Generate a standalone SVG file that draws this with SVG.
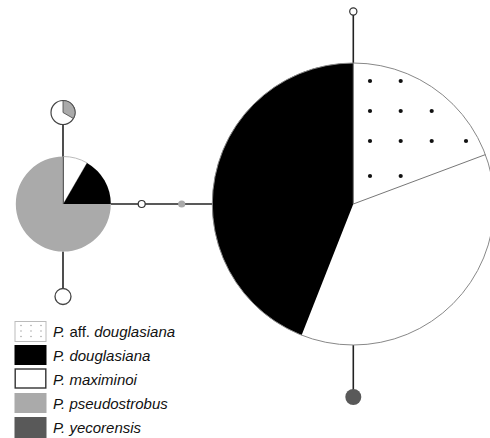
<svg xmlns="http://www.w3.org/2000/svg" width="490" height="438" viewBox="0 0 490 438">
<defs>
<style>
.edge{stroke:#222;stroke-width:1.6;fill:none}
.div{stroke:#777;stroke-width:1;fill:none}
.lbl{font-family:"Liberation Sans",Arial,sans-serif;font-size:15px;fill:#111}
.it{font-style:italic}
</style>
<circle id="dot" r="2.1" fill="#111"/>
<circle id="ldot" r="0.8" fill="#aaa"/>
</defs>
<rect width="490" height="438" fill="#fff"/>
<g id="connectors">
<line class="edge" x1="353.3" y1="15" x2="353.3" y2="63"/>
<line class="edge" x1="353.3" y1="345" x2="353.3" y2="390"/>
<line class="edge" x1="63" y1="124.5" x2="63" y2="157"/>
<line class="edge" x1="63" y1="251.5" x2="63" y2="288.5"/>
<line class="edge" x1="110.8" y1="204" x2="212.5" y2="204"/>
</g>
<g id="node-big">
<path d="M353.3,204 L353.3,63 A141,141 0 0 1 485.4,154.6 Z" fill="#fff"/>
<path d="M353.3,204 L485.4,154.6 A141,141 0 0 1 301.6,335.2 Z" fill="#fff"/>
<path d="M353.3,204 L301.6,335.2 A141,141 0 0 1 353.3,63 Z" fill="#000"/>
<circle cx="353.3" cy="204" r="141" fill="none" stroke="#888" stroke-width="1"/>
<line class="div" x1="353.3" y1="204" x2="485.4" y2="154.6"/>
<line class="div" x1="353.3" y1="204" x2="353.3" y2="63"/>
<use href="#dot" x="370" y="81"/><use href="#dot" x="400.7" y="81"/>
<use href="#dot" x="370" y="111"/><use href="#dot" x="400.7" y="111"/><use href="#dot" x="431.7" y="111"/>
<use href="#dot" x="370" y="141"/><use href="#dot" x="400.7" y="141"/><use href="#dot" x="431.7" y="141"/><use href="#dot" x="466" y="141"/>
<use href="#dot" x="370" y="176"/><use href="#dot" x="400.7" y="176"/>
</g>
<g id="node-big-top"><circle cx="353.3" cy="11.5" r="3.6" fill="#fff" stroke="#333" stroke-width="1.2"/></g>
<g id="node-big-bottom"><circle cx="353.3" cy="397" r="8" fill="#595959"/></g>
<g id="node-left">
<path d="M63.3,204 L110.8,204 A47.5,47.5 0 1 1 63.3,156.5 Z" fill="#aaa"/>
<path d="M63.3,204 L63.3,156.5 A47.5,47.5 0 0 1 87.05,162.9 Z" fill="#fff" stroke="#bbb" stroke-width="1"/>
<path d="M63.3,204 L87.05,162.9 A47.5,47.5 0 0 1 110.8,204 Z" fill="#000"/>
<line x1="63.3" y1="156.5" x2="63.3" y2="204" stroke="#444" stroke-width="1"/>
</g>
<g id="node-left-top">
<circle cx="63" cy="112.5" r="12" fill="#fff" stroke="#444" stroke-width="1.2"/>
<path d="M63,112.5 L63,100.5 A12,12 0 0 1 73.4,118.5 Z" fill="#aaa" stroke="#444" stroke-width="0.8"/>
</g>
<g id="node-left-bottom"><circle cx="63" cy="296.5" r="8" fill="#fff" stroke="#444" stroke-width="1.3"/></g>
<g id="node-m1"><circle cx="141.7" cy="204" r="3.5" fill="#fff" stroke="#333" stroke-width="1.2"/></g>
<g id="node-m2"><circle cx="181.7" cy="204" r="3.6" fill="#aaa"/></g>
<g id="legend">
<rect x="15" y="321.5" width="31" height="20" fill="#fff" stroke="#bbb" stroke-width="1"/>
<use href="#ldot" x="21" y="325.5"/><use href="#ldot" x="31" y="325.5"/><use href="#ldot" x="41" y="325.5"/>
<use href="#ldot" x="21" y="331"/><use href="#ldot" x="31" y="331"/><use href="#ldot" x="41" y="331"/>
<use href="#ldot" x="21" y="336.5"/><use href="#ldot" x="31" y="336.5"/><use href="#ldot" x="41" y="336.5"/>
<rect x="14.5" y="345" width="32" height="20" fill="#000"/>
<rect x="15.2" y="369" width="30.6" height="19" fill="#fff" stroke="#333" stroke-width="1.4"/>
<rect x="14.5" y="393" width="32" height="20" fill="#aaa"/>
<rect x="14.5" y="417" width="32" height="21" fill="#595959"/>
<text class="lbl" x="53" y="336.5"><tspan class="it">P.</tspan> aff. <tspan class="it">douglasiana</tspan></text>
<text class="lbl it" x="53" y="360.7">P. douglasiana</text>
<text class="lbl it" x="53" y="384.6">P. maximinoi</text>
<text class="lbl it" x="53" y="408.8">P. pseudostrobus</text>
<text class="lbl it" x="53" y="433">P. yecorensis</text>
</g>
</svg>
